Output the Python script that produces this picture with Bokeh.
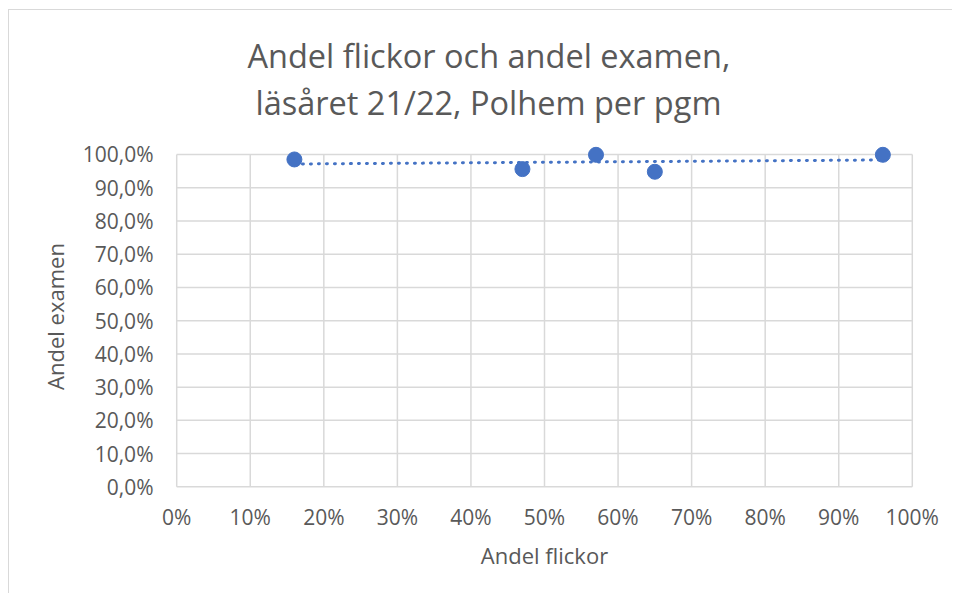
from bokeh.plotting import figure
from bokeh.models import Range1d, FixedTicker, Title
from bokeh.embed import file_html
from bokeh.resources import INLINE
import numpy as np

# Data (percent)
andel_flickor = [16.0, 47.0, 57.0, 65.0, 96.0]
andel_examen = [98.5, 95.6, 99.9, 94.8, 99.9]

x_ticks = [0, 10, 20, 30, 40, 50, 60, 70, 80, 90, 100]
x_tick_labels = ["0%", "10%", "20%", "30%", "40%", "50%", "60%", "70%", "80%", "90%", "100%"]
y_ticks = [0, 10, 20, 30, 40, 50, 60, 70, 80, 90, 100]
y_tick_labels = ["0,0%", "10,0%", "20,0%", "30,0%", "40,0%", "50,0%", "60,0%", "70,0%", "80,0%", "90,0%", "100,0%"]

title_lines = ["Andel flickor och andel examen,", "läsåret 21/22, Polhem per pgm"]
x_label = "Andel flickor"
y_label = "Andel examen"

FONT = "Open Sans"
TXT = "#595959"
GRID = "#d9d9d9"
BLUE = "#4472c4"

# small padding around 0..100 so markers at 100% are not clipped by the frame
p = figure(width=944, height=584, output_backend="svg", toolbar_location=None,
           x_range=Range1d(-0.3, 100.3), y_range=Range1d(-0.5, 103),
           min_border_left=165, min_border_right=39, min_border_top=134, min_border_bottom=106)
p.styles = {"margin-left": "8px", "margin-top": "9px",
            "border-left": "1px solid #d9d9d9", "border-top": "1px solid #d9d9d9"}
p.outline_line_color = None
p.background_fill_color = "white"
p.border_fill_color = "white"
p.xgrid.visible = False
p.ygrid.visible = False

for ax in (p.xaxis[0], p.yaxis[0]):
    ax.axis_line_color = None
    ax.major_tick_line_color = None
    ax.minor_tick_line_color = None
    ax.major_label_text_font = FONT
    ax.major_label_text_color = TXT
    ax.major_label_text_font_size = "21px"
    ax.axis_label_text_font = FONT
    ax.axis_label_text_color = TXT
    ax.axis_label_text_font_size = "22px"
    ax.axis_label_text_font_style = "normal"

p.xaxis[0].ticker = FixedTicker(ticks=x_ticks)
p.xaxis[0].major_label_overrides = {t: l for t, l in zip(x_ticks, x_tick_labels)}
p.yaxis[0].ticker = FixedTicker(ticks=y_ticks)
p.yaxis[0].major_label_overrides = {t: l for t, l in zip(y_ticks, y_tick_labels)}
p.xaxis[0].axis_label = x_label
p.yaxis[0].axis_label = y_label
p.xaxis[0].major_label_standoff = 8
p.yaxis[0].major_label_standoff = 15
p.xaxis[0].axis_label_standoff = 6
p.yaxis[0].axis_label_standoff = 10

# Grid lines bounded to 0..100 on both axes
p.segment(x0=x_ticks, x1=x_ticks, y0=[y_ticks[0]] * len(x_ticks), y1=[y_ticks[-1]] * len(x_ticks),
          line_color=GRID, line_width=1.5)
p.segment(x0=[x_ticks[0]] * len(y_ticks), x1=[x_ticks[-1]] * len(y_ticks), y0=y_ticks, y1=y_ticks,
          line_color=GRID, line_width=1.5)

# Linear trend line
coef = np.polyfit(andel_flickor, andel_examen, 1)
tx = [min(andel_flickor), max(andel_flickor)]
ty = [coef[0] * v + coef[1] for v in tx]
p.line(tx, ty, line_color=BLUE, line_width=3, line_dash="1 7", line_cap="round")

p.scatter(andel_flickor, andel_examen, size=15, fill_color=BLUE, line_color=BLUE, marker="circle")

# Title lines (spacer nearest the frame, then line 2, then line 1)
spacer = Title(text=" ", text_font_size="1px", standoff=17)
t2 = Title(text=title_lines[1], align="left", offset=81, text_font=FONT, text_font_size="32.5px",
           text_color=TXT, text_font_style="normal", standoff=0)
t1 = Title(text=title_lines[0], align="left", offset=73, text_font=FONT, text_font_size="32.5px",
           text_color=TXT, text_font_style="normal", standoff=0)
p.add_layout(spacer, "above")
p.add_layout(t2, "above")
p.add_layout(t1, "above")

open("out.html", "w").write(file_html(p, INLINE))
